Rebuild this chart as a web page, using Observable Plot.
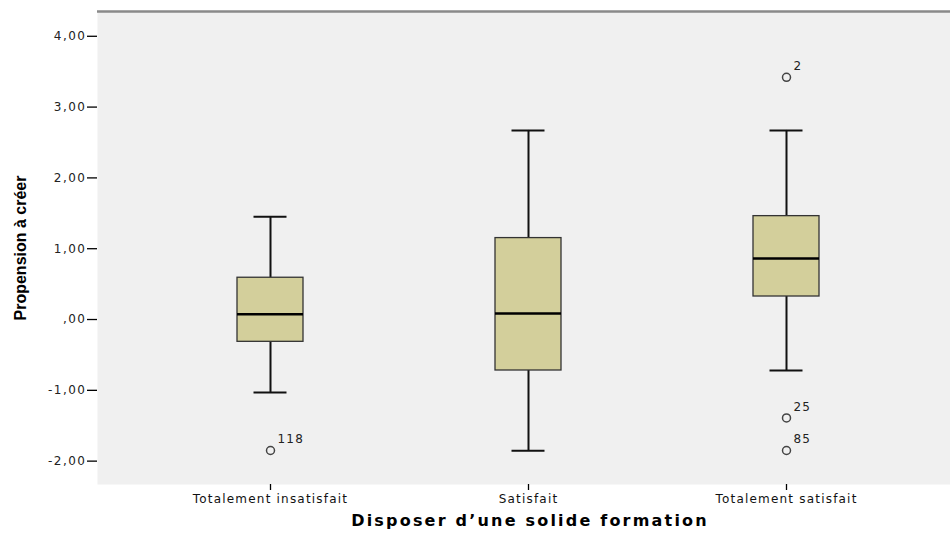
<!DOCTYPE html>
<html>
<head>
<meta charset="utf-8">
<script src="https://cdn.jsdelivr.net/npm/d3@7"></script>
<script src="https://cdn.jsdelivr.net/npm/@observablehq/plot@0.6"></script>
<style>
  html, body { margin: 0; padding: 0; background: #ffffff; }
  #chart svg { display: block; }
</style>
</head>
<body>
<div id="chart"></div>
<script>
const categories = ["Totalement insatisfait", "Satisfait", "Totalement satisfait"];
const lowWhisker = [-1.03, -1.855, -0.72];
const q1 = [-0.315, -0.72, 0.325];
const median = [0.075, 0.085, 0.86];
const q3 = [0.59, 1.15, 1.46];
const highWhisker = [1.45, 2.67, 2.67];

const outlierCategory = ["Totalement insatisfait", "Totalement satisfait", "Totalement satisfait", "Totalement satisfait"];
const outlierValue = [-1.85, 3.42, -1.39, -1.85];
const outlierLabel = ["118", "2", "25", "85"];

const yTicks = [-2, -1, 0, 1, 2, 3, 4];
const yTitle = "Propension à créer";
const xTitle = "Disposer d’une solide formation";

const boxes = categories.map((c, i) => ({
  cat: c, low: lowWhisker[i], q1: q1[i], med: median[i], q3: q3[i], high: highWhisker[i]
}));
const outliers = outlierValue.map((v, i) => ({cat: outlierCategory[i], v, label: outlierLabel[i]}));

const yMin = -2.33, yMax = 4.35;
const fmt = d => d === 0 ? ",00" : d.toFixed(2).replace(".", ",");
const tickFont = "'DejaVu Sans', Verdana, sans-serif";

const chart = Plot.plot({
  width: 950,
  height: 533,
  marginLeft: 97,
  marginRight: 0,
  marginTop: 11,
  marginBottom: 49,
  style: {fontFamily: tickFont, background: "#ffffff"},
  x: {type: "band", domain: categories, paddingInner: 0.744, paddingOuter: 0.525, align: 0.515},
  y: {domain: [yMin, yMax]},
  marks: [
    Plot.frame({fill: "#f0f0f0", stroke: "none"}),
    Plot.ruleY([yMax], {stroke: "#8a8a8a", strokeWidth: 2.5}),
    Plot.ruleX(boxes, {x: "cat", y1: "low", y2: "q1", stroke: "#111", strokeWidth: 2}),
    Plot.ruleX(boxes, {x: "cat", y1: "q3", y2: "high", stroke: "#111", strokeWidth: 2}),
    Plot.tickY(boxes, {x: "cat", y: "low", stroke: "#111", strokeWidth: 2, insetLeft: 16.5, insetRight: 16.5}),
    Plot.tickY(boxes, {x: "cat", y: "high", stroke: "#111", strokeWidth: 2, insetLeft: 16.5, insetRight: 16.5}),
    Plot.barY(boxes, {x: "cat", y1: "q1", y2: "q3", fill: "#d3cf9b", stroke: "#333", strokeWidth: 1.3}),
    Plot.tickY(boxes, {x: "cat", y: "med", stroke: "#000", strokeWidth: 2.5}),
    Plot.dot(outliers, {x: "cat", y: "v", r: 4, stroke: "#444", strokeWidth: 1.5, fill: "none"}),
    Plot.text(outliers, {x: "cat", y: "v", text: "label", dx: 7, dy: -11, textAnchor: "start", fontSize: 12, fill: "#222"}),
    Plot.axisY({ticks: yTicks, tickFormat: fmt, tickSize: 10, tickPadding: 1, fontSize: 12, label: null, line: true, stroke: "#000", strokeWidth: 1.3, fill: "#222"}),
    Plot.axisX({tickSize: 6, tickPadding: 4, fontSize: 12, label: null, line: true, stroke: "#000", strokeWidth: 1.3, fill: "#111"}),
    Plot.text([yTitle], {frameAnchor: "left", dx: -77, rotate: -90, textAnchor: "middle", fontWeight: "bold", fontSize: 16, fontFamily: "'Liberation Sans Narrow', 'Liberation Sans', sans-serif", fill: "#000"}),
    Plot.text([xTitle], {frameAnchor: "bottom", dy: 41, dx: 6, fontWeight: "bold", fontSize: 16, fontFamily: "'DejaVu Sans', Verdana, sans-serif", fill: "#000"})
  ]
});
const svg = d3.select(chart);
svg.selectAll('g[aria-label="x-axis tick label"] text').style("letter-spacing", "1.2px");
svg.selectAll('g[aria-label="y-axis tick label"] text').style("letter-spacing", "1.5px");
svg.selectAll("text").filter(function () { return outlierLabel.includes(this.textContent); }).style("letter-spacing", "1.2px");
svg.selectAll("text").filter(function () { return this.textContent === xTitle; }).style("letter-spacing", "2.2px");
document.getElementById("chart").appendChild(chart);
</script>
</body>
</html>
